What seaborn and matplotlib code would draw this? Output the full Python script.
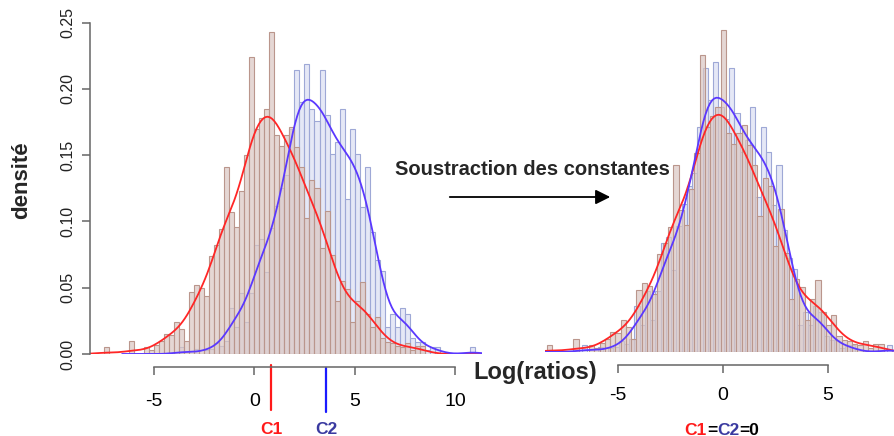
import numpy as np
import pandas as pd
import matplotlib
matplotlib.use("Agg")
import matplotlib.pyplot as plt
import seaborn as sns
from matplotlib.offsetbox import TextArea, HPacker, AnnotationBbox
from matplotlib.ticker import FormatStrFormatter

# ---------------- data ----------------
bin_width = 0.25
red_start = -7.5          # left edge of first C1 bin
red_heights = [0.005, 0, 0, 0, 0, 0.010, 0, 0, 0.005, 0.003,
               0.007, 0.010, 0.015, 0.014, 0.024, 0.019, 0.010, 0.047, 0.052, 0.050,
               0.044, 0.074, 0.082, 0.094, 0.141, 0.107, 0.096, 0.123, 0.150, 0.224,
               0.170, 0.178, 0.185, 0.243, 0.165, 0.157, 0.165, 0.171, 0.156, 0.141,
               0.103, 0.131, 0.125, 0.080, 0.108, 0.075, 0.040, 0.055, 0.049, 0.024,
               0.040, 0.054, 0.030, 0.020, 0.028, 0.012, 0.009, 0.008, 0.006, 0.005,
               0.008, 0.003, 0.006, 0.006]
blue_start = -3.75        # left edge of first C2 bin
blue_heights = [0.005, 0, 0, 0.004, 0, 0.003, 0.004, 0.008, 0.006, 0.010,
                0.035, 0.020, 0.046, 0.024, 0.046, 0.082, 0.087, 0.062, 0.095, 0.112,
                0.125, 0.135, 0.170, 0.214, 0.190, 0.219, 0.185, 0.176, 0.214, 0.180,
                0.151, 0.160, 0.185, 0.117, 0.170, 0.151, 0.111, 0.141, 0.092, 0.071,
                0.063, 0.020, 0.030, 0.020, 0.035, 0.030, 0.012, 0.009, 0.009, 0.003,
                0.005, 0.005, 0, 0, 0, 0, 0, 0, 0.005]
C1 = 0.83                 # marker positions on the left axis
C2 = 3.57
shift_red = 0.85          # constants subtracted for the right panel
shift_blue = 2.95
left_ticks = [-5, 0, 5, 10]
right_ticks = [-5, 0, 5]
y_ticks = [0.00, 0.05, 0.10, 0.15, 0.20, 0.25]

# ---------------- style ----------------
sns.set_style("white")
plt.rcParams["font.family"] = ["Liberation Sans", "DejaVu Sans"]
plt.rcParams["axes.unicode_minus"] = False

W, H = 894, 436
fig = plt.figure(figsize=(W / 100, H / 100), dpi=100)


def fx(px):
    return px / W


def fy(py):
    return 1 - py / H


ax_l = fig.add_axes([fx(90), fy(354), (482 - 90) / W, (354 - 22.7) / H])
ax_r = fig.add_axes([fx(545), fy(352), (894 - 545) / W, (354 - 22.7) / H])

red_face = (0.86, 0.78, 0.76, 0.70)
red_edge = (0.73, 0.59, 0.55, 1.0)
blue_face = (0.83, 0.85, 0.94, 0.60)
blue_edge = (0.62, 0.66, 0.84, 1.0)
red_line = "#FF2626"
blue_line = "#5A38FF"


def make_df(start, heights, shift):
    h = np.array(heights, dtype=float)
    left = start - shift + bin_width * np.arange(len(h))
    return pd.DataFrame({"center": left + bin_width / 2, "h": h}), left[0], left[-1] + bin_width


def draw_panel(ax, sr, sb):
    df_r, r0, r1 = make_df(red_start, red_heights, sr)
    df_b, b0, b1 = make_df(blue_start, blue_heights, sb)
    sns.histplot(data=df_b, x="center", weights="h", binwidth=bin_width,
                 binrange=(b0, b1), stat="count", ax=ax,
                 facecolor=blue_face, edgecolor=blue_edge, linewidth=0.8)
    sns.histplot(data=df_r, x="center", weights="h", binwidth=bin_width,
                 binrange=(r0, r1), stat="count", ax=ax,
                 facecolor=red_face, edgecolor=red_edge, linewidth=0.8)
    sns.kdeplot(data=df_r, x="center", weights="h", bw_method=0.23, cut=3, ax=ax,
                color=red_line, linewidth=1.3)
    sns.kdeplot(data=df_b, x="center", weights="h", bw_method=0.23, cut=3, ax=ax,
                color=blue_line, linewidth=1.3)
    ax.set_ylim(0, 0.25)
    ax.set_xlabel("")
    ax.set_ylabel("")
    for s in ["top", "right"]:
        ax.spines[s].set_visible(False)
    ax.spines["bottom"].set_position(("outward", 9.4))
    ax.spines["bottom"].set_color("#666666")
    ax.spines["bottom"].set_linewidth(1.1)
    ax.tick_params(axis="x", direction="out", length=5.8, width=1.1,
                   color="#666666", labelsize=14, labelcolor="black", bottom=True)


draw_panel(ax_l, 0.0, 0.0)
ax_l.set_xlim(-8.19, 11.35)
ax_l.set_xticks(left_ticks)
ax_l.spines["bottom"].set_bounds(left_ticks[0], left_ticks[-1])
ax_l.tick_params(axis="x", pad=13)
ax_l.set_yticks(y_ticks)
ax_l.yaxis.set_major_formatter(FormatStrFormatter("%.2f"))
ax_l.spines["left"].set_color("#666666")
ax_l.spines["left"].set_linewidth(1.1)
ax_l.tick_params(axis="y", direction="out", length=5.6, width=1.1, color="#666666",
                 labelsize=11.5, labelcolor="#222222", labelrotation=90, pad=5, left=True)
for lbl in ax_l.get_yticklabels():
    lbl.set_va("center")

draw_panel(ax_r, shift_red, shift_blue)
ax_r.set_xlim(-8.446, 8.142)
ax_r.set_xticks(right_ticks)
ax_r.spines["bottom"].set_bounds(right_ticks[0], right_ticks[-1])
ax_r.tick_params(axis="x", pad=10)
ax_r.spines["left"].set_visible(False)
ax_r.set_yticks([])

# C1 / C2 markers below the left axis
tr = ax_l.get_xaxis_transform()
ax_l.plot([C1, C1], [-0.033, -0.169], transform=tr, clip_on=False,
          color="#FF1A1A", lw=1.6)
ax_l.plot([C2, C2], [-0.042, -0.175], transform=tr, clip_on=False,
          color="#1A1AFF", lw=1.6)
ax_l.text(C1, -0.229, "C1", transform=tr, ha="center", va="center",
          fontsize=12.5, weight="bold", color="#FF1A1A")
ax_l.text(C2, -0.229, "C2", transform=tr, ha="center", va="center",
          fontsize=12.5, weight="bold", color="#3A3AA0")

# texts
fig.text(fx(22), fy(180), "densité", rotation=90, ha="center", va="center",
         fontsize=16, weight="bold")
fig.text(fx(535), fy(372), "Log(ratios)", ha="center", va="center",
         fontsize=17, weight="bold")
fig.text(fx(532), fy(169), "Soustraction des constantes", ha="center",
         va="center", fontsize=14.5, weight="bold")
fig.patches.append(matplotlib.patches.FancyArrowPatch(
    (fx(447), fy(197)), (fx(613), fy(197)), transform=fig.transFigure,
    arrowstyle="-|>", mutation_scale=22, lw=1.3, color="black"))

parts = [("C1", "#FF1A1A"), ("=", "black"), ("C2", "#3A3AA0"), ("=0", "black")]
boxes = [TextArea(s, textprops=dict(color=c, fontsize=12.5, weight="bold"))
         for s, c in parts]
pack = HPacker(children=boxes, align="center", pad=0, sep=0)
ab = AnnotationBbox(pack, (fx(722), fy(430)), xycoords="figure fraction",
                    frameon=False, box_alignment=(0.5, 0.5))
fig.add_artist(ab)

fig.savefig("out.png", dpi=100)
